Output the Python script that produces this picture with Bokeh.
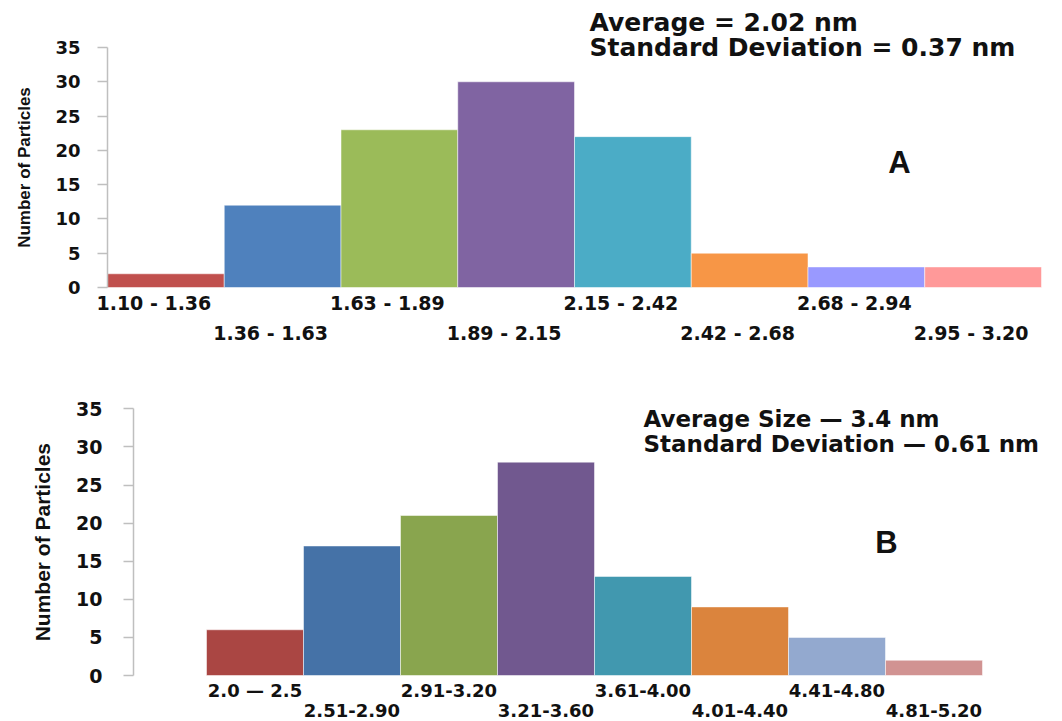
from bokeh.plotting import figure
from bokeh.layouts import column
from bokeh.models import ColumnDataSource, LabelSet, Label, FixedTicker, LinearAxis
from bokeh.core.properties import value
from bokeh.embed import file_html
from bokeh.resources import INLINE
import math

# ---- Panel A: size distribution (nm) ----
bins_a = ["1.10 - 1.36", "1.36 - 1.63", "1.63 - 1.89", "1.89 - 2.15",
          "2.15 - 2.42", "2.42 - 2.68", "2.68 - 2.94", "2.95 - 3.20"]
counts_a = [2, 12, 23, 30, 22, 5, 3, 3]
colors_a = ["#C0504D", "#4F81BD", "#9BBB59", "#8064A2",
            "#4BACC6", "#F79646", "#9999FF", "#FF9999"]
stats_a = ["Average = 2.02 nm", "Standard Deviation = 0.37 nm"]

# ---- Panel B: size distribution (nm) ----
bins_b = ["2.0 \u2014 2.5", "2.51-2.90", "2.91-3.20", "3.21-3.60",
          "3.61-4.00", "4.01-4.40", "4.41-4.80", "4.81-5.20"]
counts_b = [6, 17, 21, 28, 13, 9, 5, 2]
colors_b = ["#AA4643", "#4572A7", "#89A54E", "#71588F",
            "#4198AF", "#DB843D", "#93A9CF", "#D19392"]
stats_b = ["Average Size \u2014 3.4 nm", "Standard Deviation \u2014 0.61 nm"]

y_ticks = [0, 5, 10, 15, 20, 25, 30, 35]
y_title = "Number of Particles"

BOLD = "DejaVu Sans"
NARROW = "Liberation Sans"
INK = "#111111"
W = 1062


def make_panel(bins, counts, colors, height, bar_px, axis_px, y_px,
               tick_size, tick_standoff, xlab_size, row_offsets, xlab_shift,
               stats, stats_px, stats_size, stats_gap, letter, letter_px,
               ylab_px, ylab_size):
    # bar_px: pixel x of the first and last bar edges; axis_px: pixel x of the
    # value axis; y_px: pixel y (from top) of the 35 and 0 gridlines.
    x0, x1 = bar_px
    ux = (x1 - x0) / len(counts)
    yt, yb = y_px
    uy = (yb - yt) / 35.0
    to_x = lambda px: (px - x0) / ux
    to_y = lambda py: (yb - py) / uy

    p = figure(width=W, height=height,
               x_range=(to_x(0), to_x(W)), y_range=(to_y(height), to_y(0)),
               output_backend="svg", toolbar_location=None,
               min_border=0, x_axis_type=None, y_axis_type=None)
    p.outline_line_color = None
    p.background_fill_color = "white"
    p.border_fill_color = "white"
    p.xgrid.visible = False
    p.ygrid.visible = False

    yax = LinearAxis(fixed_location=to_x(axis_px), bounds=(0, 35),
                     ticker=FixedTicker(ticks=y_ticks))
    yax.minor_tick_line_color = None
    yax.axis_line_color = "#BFBFBF"
    yax.axis_line_width = 1.5
    yax.major_tick_line_color = "#BFBFBF"
    yax.major_tick_line_width = 1.5
    yax.major_tick_out = 10
    yax.major_tick_in = 0
    yax.major_label_text_font = BOLD
    yax.major_label_text_font_style = "bold"
    yax.major_label_text_font_size = f"{tick_size}px"
    yax.major_label_text_color = INK
    yax.major_label_standoff = tick_standoff
    p.add_layout(yax, "left")

    centers = [i + 0.5 for i in range(len(counts))]
    src = ColumnDataSource(dict(x=centers, top=counts, color=colors, label=bins,
                                yoff=[-row_offsets[i % 2] for i in range(len(bins))]))
    p.vbar(x="x", top="top", width=1.0, bottom=0, fill_color="color",
           line_color="white", line_alpha=0.5, line_width=1, source=src)

    p.add_layout(LabelSet(x="x", y=0, text="label", source=src,
                          x_offset=xlab_shift, y_offset="yoff",
                          text_align="center", text_baseline="middle",
                          text_font=value(BOLD), text_font_style="bold",
                          text_font_size=value(f"{xlab_size}px"), text_color=INK))

    sx, sy = stats_px
    for k, line in enumerate(stats):
        p.add_layout(Label(x=to_x(sx), y=to_y(sy + k * stats_gap), text=line,
                           text_align="left", text_baseline="middle",
                           text_font=BOLD, text_font_style="bold",
                           text_font_size=f"{stats_size}px", text_color=INK))

    p.add_layout(Label(x=to_x(letter_px[0]), y=to_y(letter_px[1]), text=letter,
                       text_align="center", text_baseline="middle",
                       text_font="Liberation Sans", text_font_style="bold",
                       text_font_size="31px", text_color=INK))

    p.add_layout(Label(x=to_x(ylab_px), y=17.5, text=y_title, angle=math.pi / 2,
                       text_align="center", text_baseline="middle",
                       text_font=NARROW, text_font_style="bold",
                       text_font_size=f"{ylab_size}px", text_color=INK))
    return p


top = make_panel(bins_a, counts_a, colors_a, height=360,
                 bar_px=(107, 1041), axis_px=107, y_px=(47, 287),
                 tick_size=18, tick_standoff=17, xlab_size=19,
                 row_offsets=(15, 45), xlab_shift=-12,
                 stats=stats_a, stats_px=(589, 22), stats_size=25, stats_gap=25,
                 letter="A", letter_px=(899, 162), ylab_px=24, ylab_size=17)

bottom = make_panel(bins_b, counts_b, colors_b, height=361,
                    bar_px=(206, 982), axis_px=133, y_px=(48.3, 315),
                    tick_size=19, tick_standoff=21, xlab_size=18,
                    row_offsets=(15, 35), xlab_shift=0,
                    stats=stats_b, stats_px=(643, 58), stats_size=23, stats_gap=25,
                    letter="B", letter_px=(886, 182), ylab_px=42, ylab_size=21)

layout = column(top, bottom, spacing=0)
open("out.html", "w").write(file_html(layout, INLINE))
